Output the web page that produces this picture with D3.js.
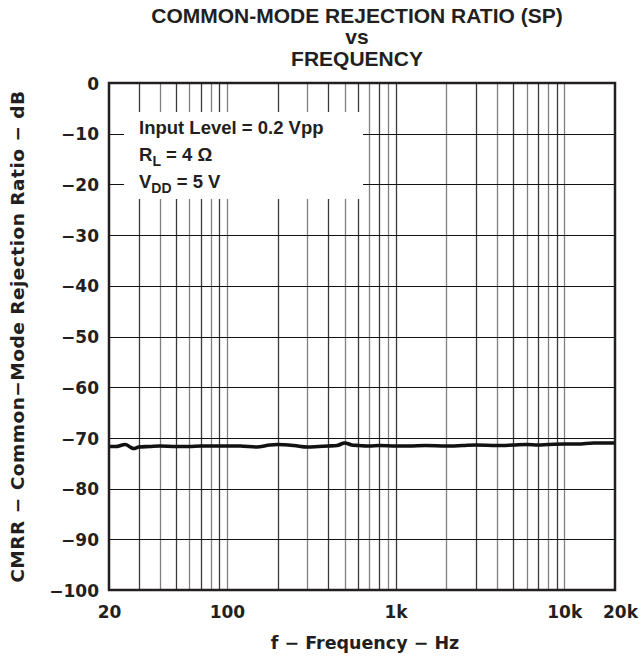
<!DOCTYPE html>
<html><head><meta charset="utf-8">
<script src="https://cdn.jsdelivr.net/npm/d3@7/dist/d3.min.js"></script>
<style>
body{margin:0;background:#fff;}
text{font-family:"Liberation Sans",Arial,Helvetica,sans-serif;font-weight:bold;fill:#231f20;}
text.wide{font-family:"DejaVu Sans",sans-serif;}
</style></head>
<body><svg id="c" width="641" height="658"></svg>
<script>
// ---- data ----
const titleLines = ["COMMON-MODE REJECTION RATIO (SP)", "vs", "FREQUENCY"];
const xTickValues = [20, 100, 1000, 10000, 20000];
const xTickLabels = ["20", "100", "1k", "10k", "20k"];
const yTickValues = [0, -10, -20, -30, -40, -50, -60, -70, -80, -90, -100];
const freq = [20, 22, 24, 25, 27, 28, 30, 35, 40, 50, 60, 70, 80, 100, 120, 150, 180, 200, 250, 300, 350, 400, 450, 500, 550, 600, 700, 800, 1000, 1200, 1500, 2000, 2500, 3000, 4000, 5000, 6000, 7000, 8000, 10000, 12000, 15000, 20000];
const cmrr = [-71.7, -71.7, -71.4, -71.3, -71.9, -72.1, -71.8, -71.7, -71.6, -71.7, -71.7, -71.6, -71.6, -71.6, -71.6, -71.8, -71.4, -71.3, -71.5, -71.8, -71.7, -71.6, -71.5, -71.0, -71.4, -71.5, -71.6, -71.5, -71.6, -71.6, -71.5, -71.6, -71.5, -71.4, -71.5, -71.4, -71.3, -71.4, -71.3, -71.2, -71.2, -71.0, -71.0];
const legendLines = [
  [{t:"Input Level = 0.2 Vpp"}],
  [{t:"R"},{t:"L",sub:true},{t:" = 4 Ω"}],
  [{t:"V"},{t:"DD",sub:true},{t:" = 5 V"}]
];
const xTitle = "f − Frequency − Hz";
const yTitle = "CMRR − Common−Mode Rejection Ratio − dB";

// ---- layout ----
const svg = d3.select("#c");
const L = 109, T = 83, W = 506, H = 507;
const x = d3.scaleLog().domain([20, 20000]).range([L, L + W]);
const y = d3.scaleLinear().domain([-100, 0]).range([T + H, T]);

const minor = [];
[10, 100, 1000, 10000].forEach(d => { for (let k = 1; k <= 9; k++) { const v = d * k; if (v > 20 && v < 20000) minor.push(v); } });

const g = svg.append("g");
g.selectAll(".vg").data(minor).join("line")
  .attr("x1", d => Math.round(x(d)) + 0.5).attr("x2", d => Math.round(x(d)) + 0.5)
  .attr("y1", T).attr("y2", T + H)
  .attr("stroke", (d, i) => i % 2 ? "#808080" : "#3a3a3a").attr("stroke-width", 1.3);
g.selectAll(".hg").data(yTickValues.filter(v => v > -100 && v < 0)).join("line")
  .attr("x1", L).attr("x2", L + W)
  .attr("y1", d => Math.round(y(d)) + 0.5).attr("y2", d => Math.round(y(d)) + 0.5)
  .attr("stroke", "#111").attr("stroke-width", 1.2);

g.append("rect").attr("x", 124).attr("y", 112).attr("width", 239).attr("height", 87).attr("fill", "#fff");

const line = d3.line().x((d, i) => x(freq[i])).y(d => y(d)).curve(d3.curveMonotoneX);
g.append("path").datum(cmrr).attr("d", line).attr("fill", "none")
  .attr("stroke", "#111").attr("stroke-width", 3.6).attr("stroke-linejoin", "round");

g.append("rect").attr("x", L).attr("y", T).attr("width", W).attr("height", H)
  .attr("fill", "none").attr("stroke", "#231f20").attr("stroke-width", 2.5);

const xa = d3.axisBottom(x).tickValues(xTickValues).tickFormat((d, i) => xTickLabels[i]).tickSize(0).tickPadding(0);
const xg = svg.append("g").attr("transform", `translate(0,${T + H})`).call(xa);
xg.select(".domain").remove();
xg.selectAll("text").attr("class", "wide").attr("y", 28).attr("dy", 0).style("font-size", "17px")
  .attr("dx", (d, i) => i === xTickValues.length - 1 ? 5 : 0);

const ya = d3.axisLeft(y).tickValues(yTickValues).tickFormat(d => d === 0 ? "0" : "−" + Math.abs(d)).tickSize(0).tickPadding(0);
const yg = svg.append("g").attr("transform", `translate(${L - 10},0)`).call(ya);
yg.select(".domain").remove();
yg.selectAll("text").attr("class", "wide").attr("dy", "0.36em").style("font-size", "17px").attr("text-anchor", "end");

const lt = svg.append("g");
legendLines.forEach((parts, i) => {
  const t = lt.append("text").attr("x", 139).attr("y", 134 + i * 27).style("font-size", "18.5px");
  parts.forEach(p => {
    const s = t.append("tspan").text(p.t);
    if (p.sub) s.style("font-size", "14px").attr("dy", 5);
    else if (t.selectAll("tspan").size() > 1) s.attr("dy", -5);
  });
});

titleLines.forEach((s, i) => {
  svg.append("text").attr("x", 357).attr("y", [23, 44, 66][i]).attr("text-anchor", "middle")
    .style("font-size", "21px").text(s);
});
svg.append("text").attr("class", "wide").attr("x", 365).attr("y", 649).attr("text-anchor", "middle").style("font-size", "17.5px").text(xTitle);
svg.append("text").attr("class", "wide").attr("transform", `translate(24,${T + H / 2}) rotate(-90)`).attr("text-anchor", "middle")
  .style("font-size", "18.5px").style("letter-spacing", "0.5px").text(yTitle);
</script></body></html>
